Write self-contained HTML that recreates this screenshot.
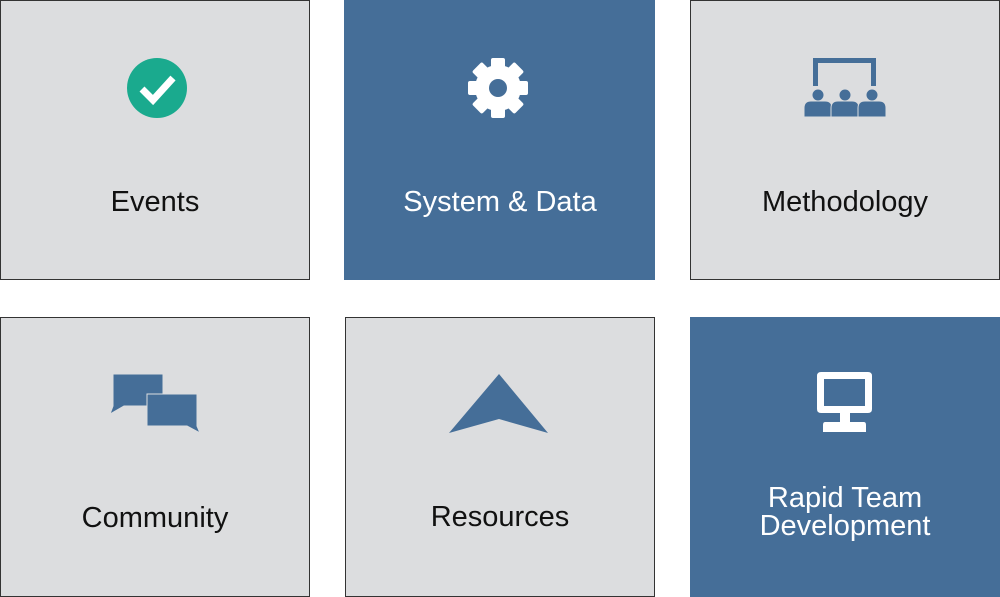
<!DOCTYPE html>
<html><head><meta charset="utf-8"><style>
html,body{margin:0;padding:0;background:#fff;width:1000px;height:597px;overflow:hidden}
svg{display:block}
text{font-family:"Liberation Sans",sans-serif;font-size:29px;text-anchor:middle}
</style></head><body>
<svg width="1000" height="597" viewBox="0 0 1000 597">
<g stroke="#333" stroke-width="1" fill="#dcdddf">
<rect x="0.5" y="0.5" width="309" height="279"/>
<rect x="690.5" y="0.5" width="309" height="279"/>
<rect x="0.5" y="317.5" width="309" height="279"/>
<rect x="345.5" y="317.5" width="309" height="279"/>
</g>
<rect x="344" y="0" width="311" height="280" fill="#456e98"/>
<rect x="690" y="317" width="310" height="280" fill="#456e98"/>

<circle cx="157" cy="88" r="30" fill="#1aaa8e"/>
<polyline points="142,89 153,100 173,78" fill="none" stroke="#fff" stroke-width="7"/>

<g transform="translate(498,88)" fill="#fff">
<circle r="23"/>
<g id="t"><rect x="-7" y="-30" width="14" height="60" rx="2"/></g>
<use href="#t" transform="rotate(45)"/>
<use href="#t" transform="rotate(90)"/>
<use href="#t" transform="rotate(135)"/>
<circle r="9" fill="#456e98"/>
</g>

<g fill="#456e98" stroke="#dcdddf" stroke-width="1">
<path d="M813,58 H876 V86 H871 V63 H818 V86 H813 Z" stroke="none"/>
<circle cx="818" cy="95" r="6"/><circle cx="845" cy="95" r="6"/><circle cx="872" cy="95" r="6"/>
<path d="M804,117 V108 Q804,101 811,101 H825 Q832,101 832,108 V117 Z"/>
<path d="M831,117 V108 Q831,101 838,101 H852 Q859,101 859,108 V117 Z"/>
<path d="M858,117 V108 Q858,101 865,101 H879 Q886,101 886,108 V117 Z"/>
</g>

<g fill="#456e98" stroke="#dcdddf" stroke-width="1">
<path d="M113,374 H163 V406 H124 L110,414 L113,406 Z"/>
<path d="M147,394 H197 V426 L200,433 L187,426 H147 Z"/>
</g>

<path d="M499,374 L548,433 L499,419 L449,433 Z" fill="#456e98"/>

<g fill="#fff">
<path fill-rule="evenodd" d="M821,372 H868 Q872,372 872,376 V409 Q872,413 868,413 H821 Q817,413 817,409 V376 Q817,372 821,372 Z M824,379 V406 H865 V379 Z"/>
<rect x="840" y="412" width="10" height="11"/>
<path d="M825,422 H864 Q866,422 866,425 V432 H823 V425 Q823,422 825,422 Z"/>
</g>

<text x="155" y="211" fill="#111">Events</text>
<text x="500" y="211" fill="#fff">System &amp; Data</text>
<text x="845" y="211" fill="#111">Methodology</text>
<text x="155" y="527" fill="#111">Community</text>
<text x="500" y="526" fill="#111">Resources</text>
<text x="845" y="507" fill="#fff">Rapid Team</text>
<text x="845" y="535" fill="#fff">Development</text>
</svg>
</body></html>
